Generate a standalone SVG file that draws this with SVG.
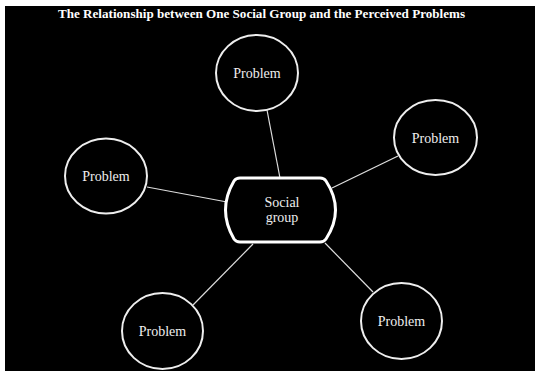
<svg xmlns="http://www.w3.org/2000/svg" width="535" height="371" viewBox="0 0 535 371">
<style>
.node ellipse{fill:#000;stroke:#eee;stroke-width:2}
.lbl{font-family:"Liberation Serif","Times New Roman",serif;font-size:14px;fill:#eee;text-anchor:middle}
.conn line{stroke:#ddd;stroke-width:1.2}
</style>
<rect x="0" y="0" width="535" height="371" fill="#fff"/>
<rect x="5" y="6" width="530" height="365" fill="#000"/>
<text x="261.5" y="18" font-family="'Liberation Serif','Times New Roman',serif" font-size="12" font-weight="bold" fill="#fff" text-anchor="middle" textLength="407" lengthAdjust="spacingAndGlyphs">The Relationship between One Social Group and the Perceived Problems</text>
<g id="connectors" class="conn">
<line x1="267" y1="110" x2="280" y2="178"/>
<line x1="147" y1="187" x2="227" y2="202"/>
<line x1="398" y1="156" x2="332" y2="188"/>
<line x1="193" y1="305" x2="253" y2="244"/>
<line x1="373" y1="292" x2="325" y2="243"/>
</g>
<g id="social-group" class="node">
<path d="M240,178 H320 Q324,178 326,181 Q345,210 326,239 Q324,242 320,242 H240 Q236,242 234,239 Q217,210 234,181 Q236,178 240,178 Z" fill="#000" stroke="#fff" stroke-width="3"/>
<text class="lbl" x="282" y="207">Social</text>
<text class="lbl" x="282" y="222">group</text>
</g>
<g id="problem-top" class="node">
<ellipse cx="257" cy="73" rx="41" ry="38"/>
<text class="lbl" x="257" y="78">Problem</text>
</g>
<g id="problem-left" class="node">
<ellipse cx="106" cy="176" rx="41" ry="37.5"/>
<text class="lbl" x="106" y="181">Problem</text>
</g>
<g id="problem-right" class="node">
<ellipse cx="435.5" cy="137.5" rx="41.5" ry="37.5"/>
<text class="lbl" x="435.5" y="142.5">Problem</text>
</g>
<g id="problem-bottom-left" class="node">
<ellipse cx="162.5" cy="331" rx="40.5" ry="38"/>
<text class="lbl" x="162.5" y="336">Problem</text>
</g>
<g id="problem-bottom-right" class="node">
<ellipse cx="401.5" cy="321" rx="40.5" ry="38"/>
<text class="lbl" x="401.5" y="326">Problem</text>
</g>
</svg>
